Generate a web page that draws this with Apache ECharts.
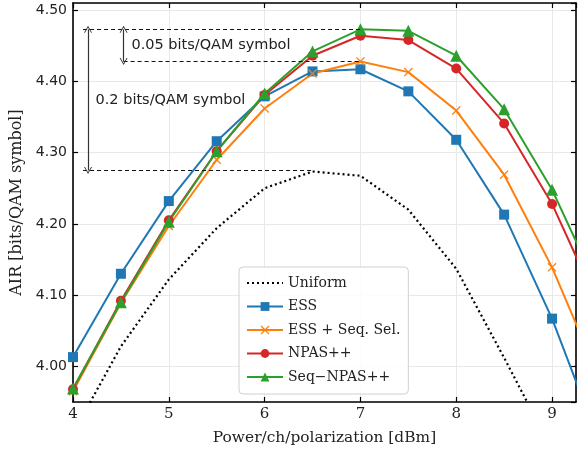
<!DOCTYPE html>
<html><head><meta charset="utf-8">
<script src="https://cdn.jsdelivr.net/npm/echarts@6/dist/echarts.min.js"></script>
<style>html,body{margin:0;padding:0;background:#fff}#c{width:584px;height:450px}</style>
</head><body><div id="c"></div>
<script>
const powers = [4, 4.5, 5, 5.5, 6, 6.5, 7, 7.5, 8, 8.5, 9, 9.5];
const uniform = [3.906, 4.028, 4.122, 4.194, 4.250, 4.2735, 4.2675, 4.220, 4.137, 4.012, 3.883, 3.75];
const ess = [4.013, 4.130, 4.232, 4.316, 4.379, 4.414, 4.417, 4.386, 4.318, 4.213, 4.067, 3.891];
const essSeq = [3.965, 4.089, 4.197, 4.290, 4.362, 4.411, 4.428, 4.413, 4.359, 4.269, 4.139, 3.981];
const npas = [3.968, 4.092, 4.205, 4.302, 4.381, 4.436, 4.464, 4.458, 4.418, 4.341, 4.228, 4.081];
const seqNpas = [3.969, 4.090, 4.203, 4.302, 4.383, 4.442, 4.473, 4.471, 4.436, 4.361, 4.248, 4.103];
const seriesNames = ['Uniform', 'ESS', 'ESS + Seq. Sel.', 'NPAS++', 'Seq\u2212NPAS++'];
const xTicks = [4, 5, 6, 7, 8, 9];
const yTickFormat = v => v.toFixed(2);
// annotation geometry in data units
const dashTop = [[4.105, 4.473], [7.0, 4.473]];
const dashMid = [[4.528, 4.428], [7.0, 4.428]];
const dashBot = [[4.105, 4.275], [6.5, 4.275]];
const arrowBig = [[4.157, 4.473], [4.157, 4.275]];
const arrowSmall = [[4.528, 4.473], [4.528, 4.428]];
const textSmall = {pos: [4.61, 4.451], text: '0.05 bits/QAM symbol'};
const textBig = {pos: [4.235, 4.374], text: '0.2 bits/QAM symbol'};

const serif = 'DejaVu Serif';
const sans = 'DejaVu Sans';
const pair = a => powers.map((x, i) => [x, a[i]]);
const xMark = 'path://M0,1 L1,0 L5,4 L9,0 L10,1 L6,5 L10,9 L9,10 L5,6 L1,10 L0,9 L4,5 Z';
const chevron = 'path://M0,10 L5,0 L10,10 L8.8,10 L5,2.4 L1.2,10 Z';

function mk(name, data, color, symbol, size) {
  return {
    name, type: 'line', data: pair(data), symbol, symbolSize: size, showSymbol: true,
    lineStyle: {color, width: 2}, itemStyle: {color}, clip: true, z: 3
  };
}
const dashStyle = {type: [4, 3], color: '#111', width: 1};
const arrowStyle = {type: 'solid', color: '#333', width: 1.2};

const chart = echarts.init(document.getElementById('c'), null, {renderer: 'canvas'});
const axisCommon = {
  axisLine: {show: true, onZero: false, lineStyle: {color: '#000', width: 1.6}},
  axisTick: {show: true, inside: true, length: 5, lineStyle: {color: '#000', width: 1.2}},
};
chart.setOption({
  animation: false,
  backgroundColor: '#fff',
  grid: {left: 73, right: 8, top: 3, bottom: 48},
  xAxis: [{
    type: 'value', min: 4, max: 9.25, interval: 1, ...axisCommon,
    name: 'Power/ch/polarization [dBm]', nameLocation: 'middle', nameGap: 28,
    nameTextStyle: {fontFamily: serif, fontSize: 15.4, color: '#222'},
    axisLabel: {fontFamily: serif, fontSize: 15, color: '#222', margin: 5, showMaxLabel: false,
      formatter: v => xTicks.includes(v) ? String(v) : ''},
    splitLine: {show: true, lineStyle: {color: '#e8e8e8', width: 1}}
  }, {
    type: 'value', min: 4, max: 9.25, interval: 1, position: 'top', ...axisCommon,
    axisLabel: {show: false}, splitLine: {show: false}
  }],
  yAxis: [{
    type: 'value', min: 3.95, max: 4.51, splitNumber: 5, ...axisCommon,
    name: 'AIR [bits/QAM symbol]', nameLocation: 'middle', nameGap: 38,
    nameTextStyle: {fontFamily: serif, fontSize: 16, color: '#222'},
    axisLabel: {fontFamily: sans, fontSize: 14, color: '#222', margin: 6, showMinLabel: false, showMaxLabel: false,
      formatter: yTickFormat},
    splitLine: {show: true, lineStyle: {color: '#e8e8e8', width: 1}}
  }, {
    type: 'value', min: 3.95, max: 4.51, splitNumber: 5, position: 'right', ...axisCommon,
    axisLabel: {show: false}, splitLine: {show: false}
  }],
  legend: {
    data: [
      {name: seriesNames[0], itemStyle: {opacity: 0, color: 'rgba(0,0,0,0)', borderWidth: 0}},
      seriesNames[1], seriesNames[2], seriesNames[3], seriesNames[4]
    ],
    orient: 'vertical', left: 239, top: 267, width: 170,
    padding: [9, 8, 10, 7], itemGap: 9.5, itemWidth: 36, itemHeight: 11,
    backgroundColor: 'rgba(255,255,255,0.85)', borderColor: '#d0d0d0', borderWidth: 1, borderRadius: 4,
    textStyle: {fontFamily: serif, fontSize: 14, color: '#222'}
  },
  series: [
    {name: seriesNames[0], type: 'line', data: pair(uniform), symbol: 'none', showSymbol: false,
      lineStyle: {color: '#000', width: 2.2, type: [2, 3]}, itemStyle: {color: '#000'}, clip: true, z: 2},
    mk(seriesNames[1], ess, '#1f77b4', 'rect', 10),
    mk(seriesNames[2], essSeq, '#ff7f0e', xMark, 9),
    mk(seriesNames[3], npas, '#d62728', 'circle', 10),
    mk(seriesNames[4], seqNpas, '#2ca02c', 'triangle', 12),
    {name: 'annot', type: 'line', data: [], z: 4, silent: true,
      markLine: {silent: true, symbol: 'none', animation: false, label: {show: false},
        data: [
          [{coord: dashTop[0], lineStyle: dashStyle}, {coord: dashTop[1]}],
          [{coord: dashMid[0], lineStyle: dashStyle}, {coord: dashMid[1]}],
          [{coord: dashBot[0], lineStyle: dashStyle}, {coord: dashBot[1]}],
          [{coord: arrowBig[0], lineStyle: arrowStyle, symbol: chevron, symbolSize: [8, 7]}, {coord: arrowBig[1], symbol: chevron, symbolSize: [8, 7]}],
          [{coord: arrowSmall[0], lineStyle: arrowStyle, symbol: chevron, symbolSize: [8, 7]}, {coord: arrowSmall[1], symbol: chevron, symbolSize: [8, 7]}]
        ]},
      markPoint: {silent: true, symbol: 'circle', symbolSize: 0, animation: false,
        label: {show: true, position: 'right', distance: 0, fontFamily: sans, fontSize: 14.5, color: '#222'},
        data: [
          {coord: textSmall.pos, value: textSmall.text, label: {formatter: textSmall.text}},
          {coord: textBig.pos, value: textBig.text, label: {formatter: textBig.text}}
        ]}
    }
  ]
});
</script>
</body></html>
